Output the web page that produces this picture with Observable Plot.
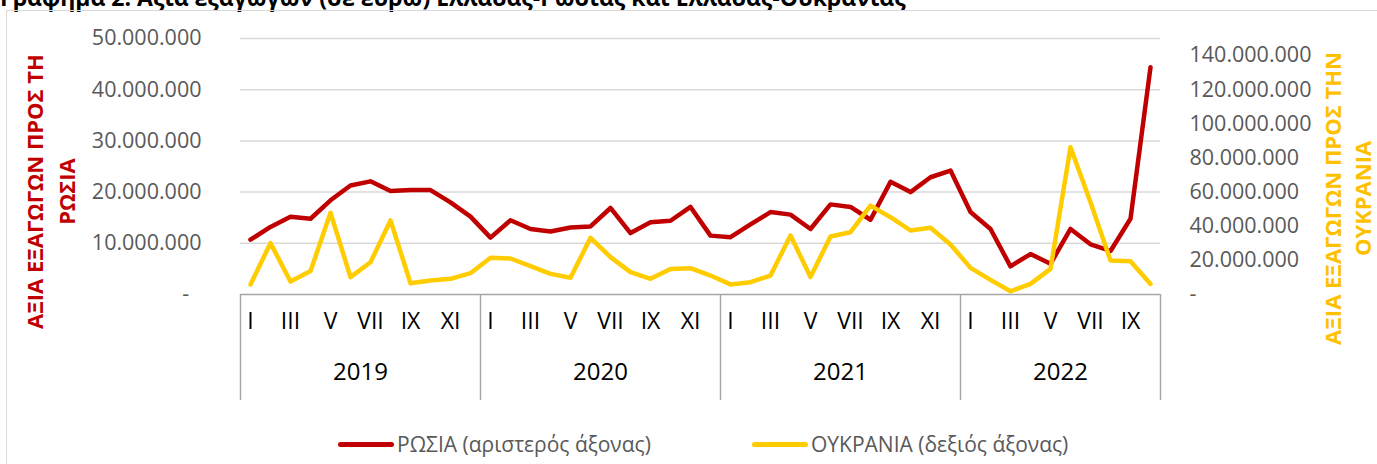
<!DOCTYPE html>
<html><head><meta charset="utf-8">
<script src="https://cdn.jsdelivr.net/npm/d3@7"></script>
<script src="https://cdn.jsdelivr.net/npm/@observablehq/plot@0.6"></script>
<style>
html,body{margin:0;padding:0;background:#fff;overflow:hidden;}
#wrap{position:relative;width:1377px;height:464px;overflow:hidden;font-family:"Open Sans",sans-serif;background:#fff;}
#frame{position:absolute;left:6px;top:10px;width:1420px;height:520px;border:1.5px solid #d9d9d9;box-sizing:border-box;pointer-events:none;}
#title{position:absolute;left:0;top:-19px;font-weight:700;font-size:23px;line-height:normal;white-space:nowrap;color:#000;}
#chart{position:absolute;left:0;top:0;}
.item{position:absolute;top:430px;height:28px;display:flex;align-items:center;font-size:21px;color:#595959;white-space:nowrap;}
.sw{display:inline-block;width:56px;height:5px;border-radius:3px;margin-right:3px;}
</style></head>
<body><div id="wrap">
<div id="title"></div>
<div id="chart"></div>
<div id="frame"></div>
<div class="item" id="lg1" style="left:338px"><span class="sw" style="background:#C00000"></span><span class="lt"></span></div>
<div class="item" id="lg2" style="left:752px"><span class="sw" style="background:#FFCC00"></span><span class="lt"></span></div>
</div>
<script>
const titleText = "Γράφημα 2: Αξία εξαγωγών (σε ευρώ) Ελλάδας-Ρωσίας και Ελλάδας-Ουκρανίας";
const monthNames = ["I","II","III","IV","V","VI","VII","VIII","IX","X","XI","XII"];
const years = ["2019","2020","2021","2022"];
const monthsPerYear = [12,12,12,10];
// Exports to Russia, million EUR (left axis)
const russia = [10.7,13.2,15.2,14.8,18.4,21.3,22.1,20.2,20.4,20.4,18.0,15.2,
                11.1,14.5,12.8,12.3,13.1,13.3,16.9,12.0,14.1,14.4,17.1,11.5,
                11.2,13.7,16.1,15.6,12.8,17.6,17.1,14.6,22.0,20.0,22.9,24.2,
                16.1,12.8,5.5,7.9,6.0,12.8,9.8,8.5,14.8,44.4];
// Exports to Ukraine, million EUR (right axis)
const ukraine = [5.9,30.1,7.6,13.7,47.9,10.2,18.9,43.4,6.6,8.2,9.2,12.5,
                 21.5,21.1,16.6,12.1,9.8,33.2,21.9,13.1,9.2,15.0,15.4,11.1,
                 5.9,7.2,11.1,34.6,10.2,34.0,36.5,52.1,45.3,37.5,39.1,29.3,
                 15.6,8.6,1.9,6.2,15.0,86.3,54.1,19.9,19.5,6.2];
const leftTicks = [0,10e6,20e6,30e6,40e6,50e6];
const rightTicks = [0,20e6,40e6,60e6,80e6,100e6,120e6,140e6];
const leftMax = 50e6, rightMax = 150e6;
const leftTitle = "ΑΞΙΑ ΕΞΑΓΩΓΩΝ ΠΡΟΣ ΤΗ\nΡΩΣΙΑ";
const rightTitle = "ΑΞΙΑ ΕΞΑΓΩΓΩΝ ΠΡΟΣ ΤΗΝ\nΟΥΚΡΑΝΙΑ";
const legendLabels = ["ΡΩΣΙΑ (αριστερός άξονας)", "ΟΥΚΡΑΝΙΑ (δεξιός άξονας)"];

const ratio = rightMax / leftMax;
const rows = [];
let k = 0;
years.forEach((y, yi) => {
  for (let m = 0; m < monthsPerYear[yi]; m++) {
    rows.push({i: k, m, year: y, ru: russia[k]*1e6, ua: ukraine[k]*1e6});
    k++;
  }
});
const n = rows.length;
const bounds = [0];
monthsPerYear.forEach(c => bounds.push(bounds[bounds.length-1] + c));
const yearData = years.map((y, yi) => ({year: y, c: (bounds[yi] + bounds[yi+1]) / 2}));

const loc = d3.formatLocale({decimal: ",", thousands: ".", grouping: [3]}).format(",");
const W = 1377, H = 420, mt = 38, mb = 126, ml = 240, mr = 217;
const inner = H - mt - mb;
const boxBottom = -(106 / inner) * leftMax;

document.getElementById("title").textContent = titleText;
document.querySelector("#lg1 .lt").textContent = legendLabels[0];
document.querySelector("#lg2 .lt").textContent = legendLabels[1];

const plot = Plot.plot({
  width: W, height: H,
  marginTop: mt, marginBottom: mb, marginLeft: ml, marginRight: mr,
  style: {fontFamily: "'Open Sans', sans-serif", background: "transparent", overflow: "visible"},
  x: {domain: [0, n], axis: null},
  y: {domain: [0, leftMax], axis: null},
  marks: [
    Plot.ruleY(leftTicks.filter(d => d > 0), {stroke: "#d9d9d9", strokeWidth: 1.5}),
    Plot.ruleX(bounds, {x: d => d, y1: 0, y2: boxBottom, stroke: "#a6a6a6", strokeWidth: 1.5}),
    Plot.ruleY([0], {stroke: "#a6a6a6", strokeWidth: 1.5}),
    Plot.axisY({anchor: "left", ticks: leftTicks, tickSize: 0, tickPadding: 39,
      tickFormat: d => d === 0 ? "-\u2007" : loc(d), fontSize: 21.5, color: "#595959", label: null}),
    Plot.axisY({anchor: "right", ticks: rightTicks.map(d => d / ratio), tickSize: 0, tickPadding: 29,
      tickFormat: d => { const v = Math.round(d * ratio); return v === 0 ? "-" : loc(v); },
      fontSize: 21.5, color: "#595959", label: null}),
    Plot.line(rows, {x: d => d.i + 0.5, y: "ru", stroke: "#C00000", strokeWidth: 4.5,
      strokeLinejoin: "round", strokeLinecap: "round"}),
    Plot.line(rows, {x: d => d.i + 0.5, y: d => d.ua / ratio, stroke: "#FFCC00", strokeWidth: 4.5,
      strokeLinejoin: "round", strokeLinecap: "round"}),
    Plot.text(rows.filter(d => d.m % 2 === 0), {x: d => d.i + 0.5, text: d => monthNames[d.m],
      frameAnchor: "bottom", dy: 34, fontSize: 23, fill: "#000"}),
    Plot.text(yearData, {x: "c", text: "year", frameAnchor: "bottom", dy: 85, fontSize: 24, fill: "#000"}),
    Plot.text([leftTitle], {text: d => d, frameAnchor: "left", textAnchor: "middle", lineAnchor: "middle",
      rotate: -90, dx: -192, dy: 25, fontSize: 22, fontWeight: "bold", fill: "#C00000", lineHeight: 1.45}),
    Plot.text([rightTitle], {text: d => d, frameAnchor: "right", textAnchor: "middle", lineAnchor: "middle",
      rotate: -90, dx: 186, dy: 32, fontSize: 22, fontWeight: "bold", fill: "#FFC000", lineHeight: 1.33})
  ]
});
document.getElementById("chart").appendChild(plot);
</script>
</body></html>
